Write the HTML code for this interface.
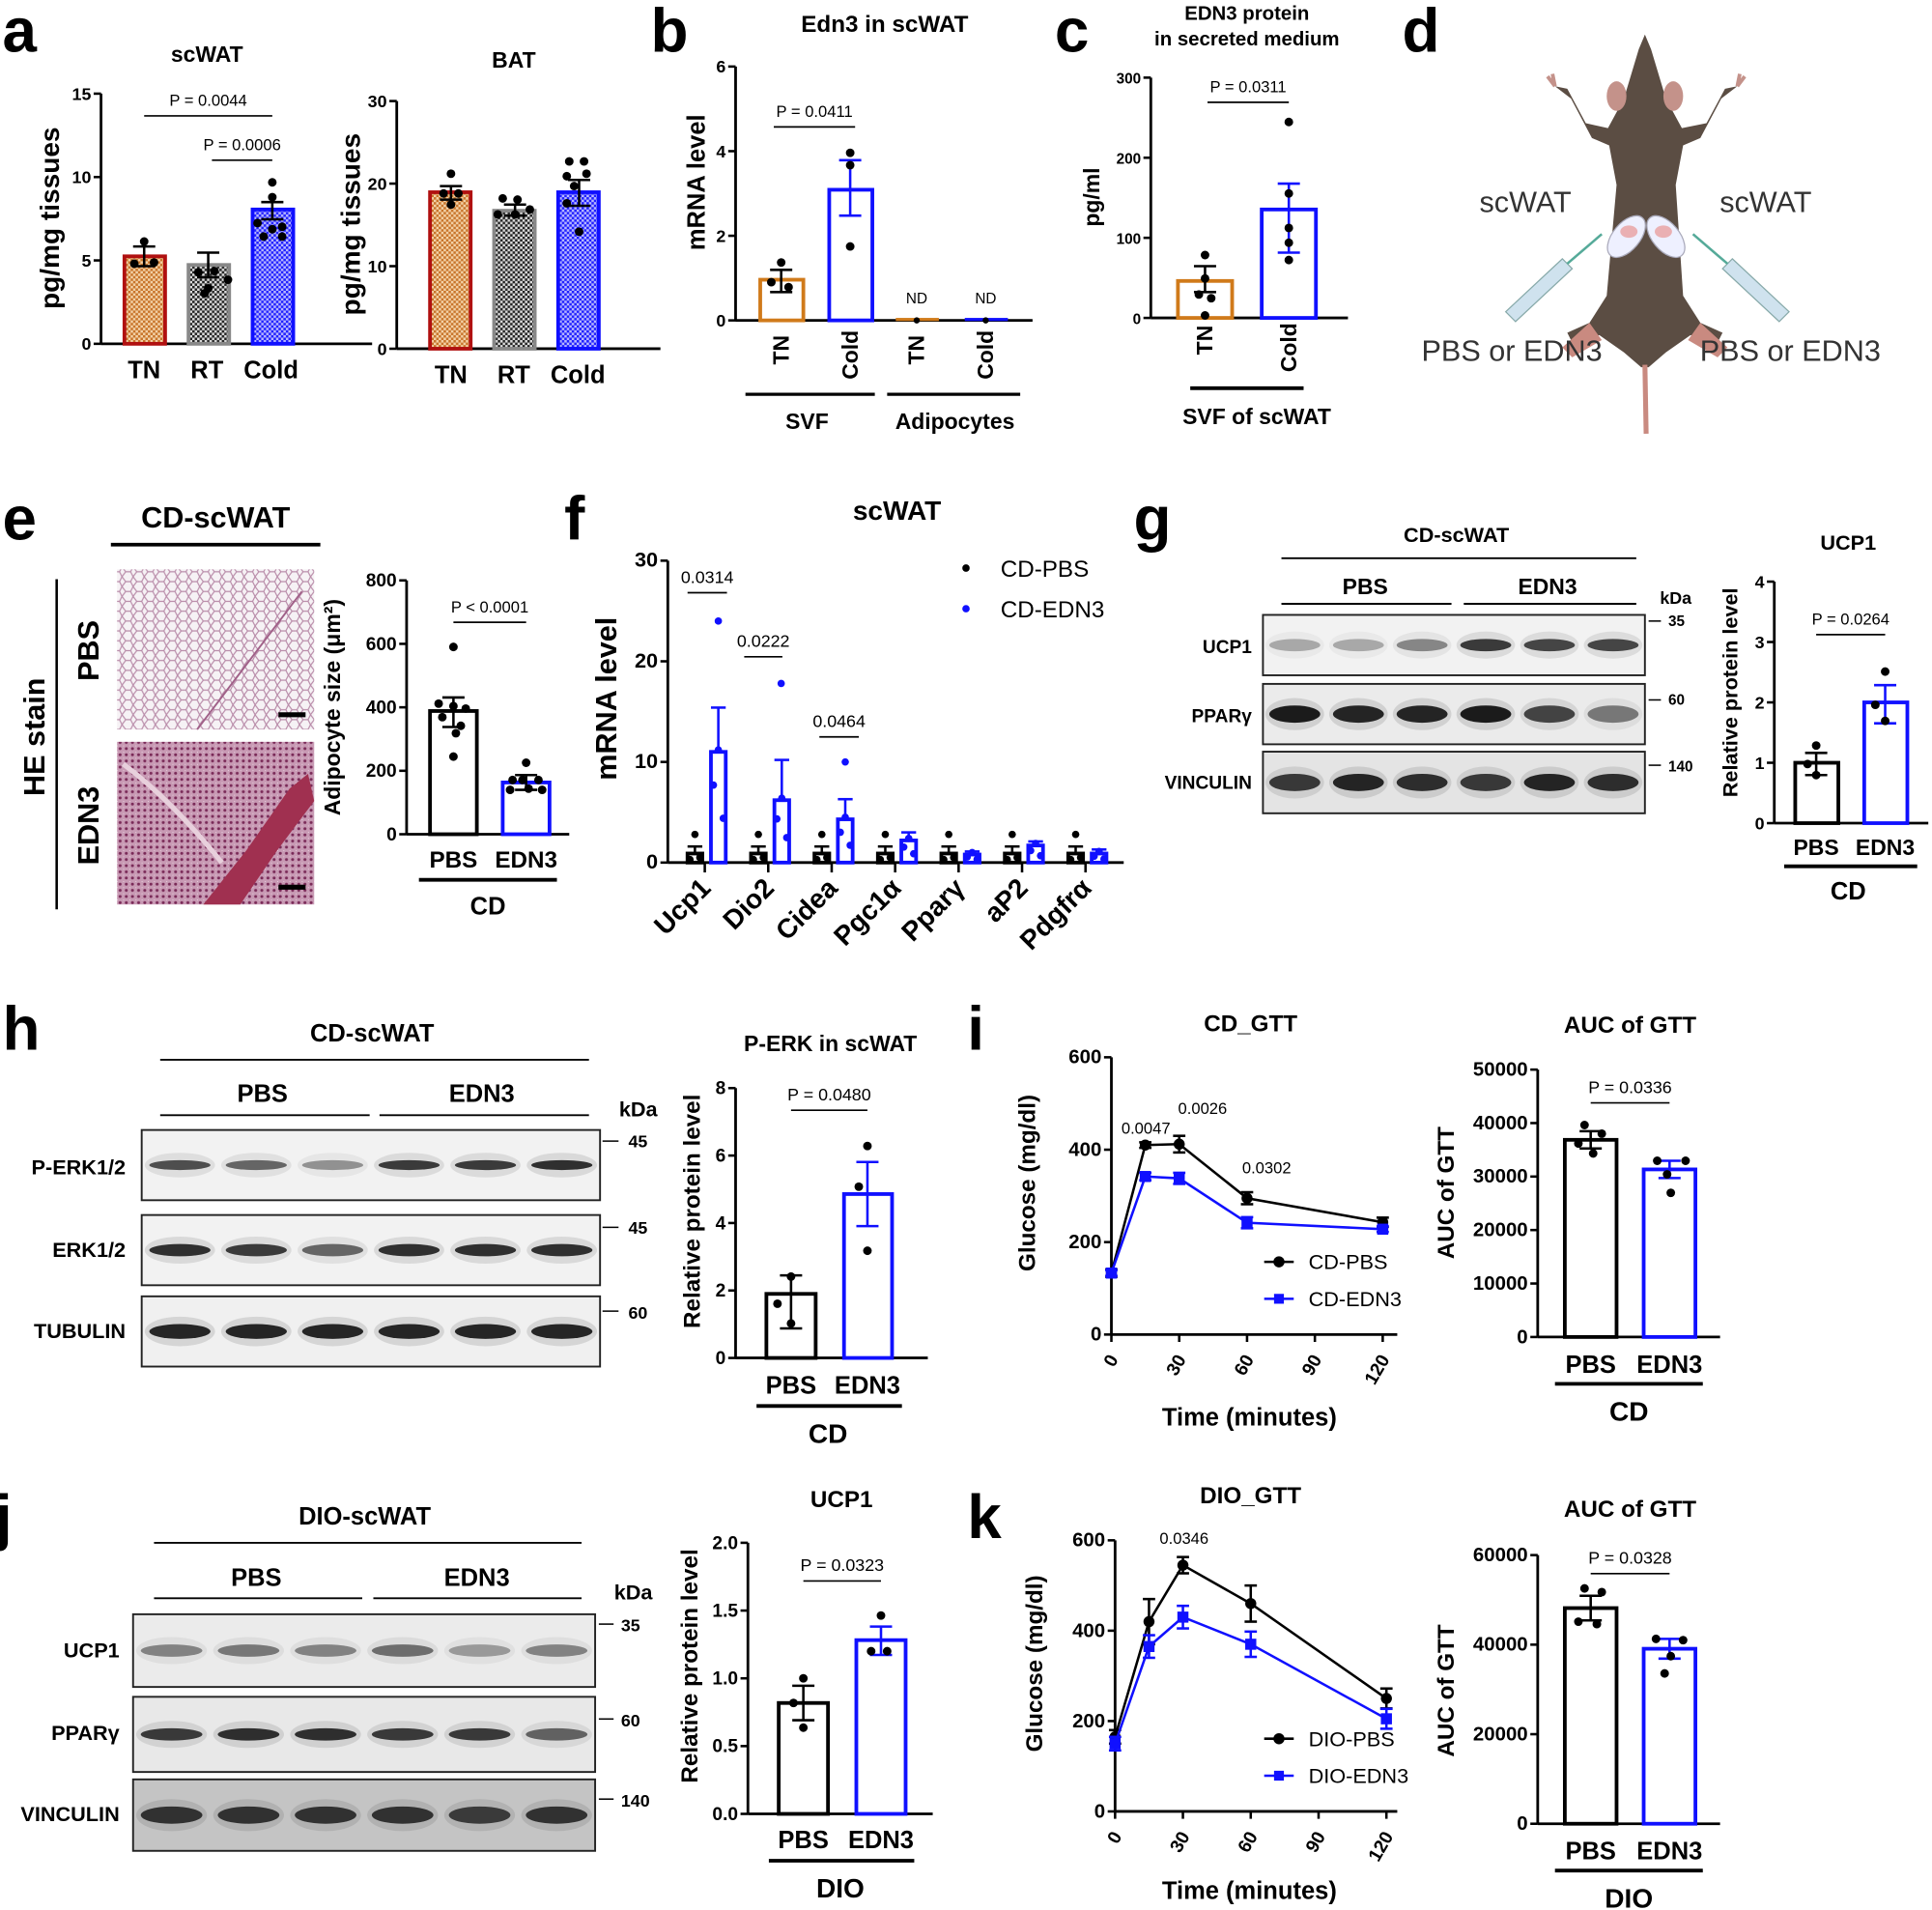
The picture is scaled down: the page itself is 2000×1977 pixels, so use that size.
<!DOCTYPE html>
<html><head><meta charset="utf-8"><style>
html,body{margin:0;padding:0;background:#fff;}
svg{display:block;}
text{font-family:"Liberation Sans",Arial,sans-serif;}
</style></head><body>
<svg id="s" xmlns="http://www.w3.org/2000/svg" width="2000" height="1977" viewBox="0 0 1568 1550" preserveAspectRatio="none">
<defs>
<pattern id="po" width="4" height="4" patternUnits="userSpaceOnUse"><rect width="4" height="4" fill="#f3d2a8"/><rect width="2" height="2" fill="#c8742a"/><rect x="2" y="2" width="2" height="2" fill="#c8742a"/></pattern>
<pattern id="pg" width="4" height="4" patternUnits="userSpaceOnUse"><rect width="4" height="4" fill="#ddd"/><rect width="2" height="2" fill="#222"/><rect x="2" y="2" width="2" height="2" fill="#222"/></pattern>
<pattern id="pb" width="4" height="4" patternUnits="userSpaceOnUse"><rect width="4" height="4" fill="#b8b8ff"/><rect width="2" height="2" fill="#2020ff"/><rect x="2" y="2" width="2" height="2" fill="#2020ff"/></pattern>
<pattern id="he1" width="9" height="8" patternUnits="userSpaceOnUse"><rect width="9" height="8" fill="#f6f2f5"/><path d="M0 4 L3 0 L7 0 L9 4 L7 8 L3 8 Z" fill="none" stroke="#b88aa8" stroke-width="0.9"/></pattern>
<pattern id="he2" width="5" height="5" patternUnits="userSpaceOnUse"><rect width="5" height="5" fill="#c89ab4"/><circle cx="2.5" cy="2.5" r="1.2" fill="#7a2a58"/><circle cx="0" cy="0" r="0.8" fill="#efe0ea"/></pattern>
</defs>
<g id="g"></g>
</svg>
<script>
var out=[];
function A(s){out.push(s);}
function T(x,y,s,sz,o){o=o||{};var a=o.a||'middle',w=o.w||'bold',f=o.f||'#000',r=o.r;
A('<text x="'+x+'" y="'+y+'" font-size="'+sz+'" font-weight="'+w+'" fill="'+f+'" text-anchor="'+a+'"'+(r!==undefined?' transform="rotate('+r+' '+x+' '+y+')"':'')+'>'+s+'</text>');}
function L(x1,y1,x2,y2,c,w){A('<line x1="'+x1+'" y1="'+y1+'" x2="'+x2+'" y2="'+y2+'" stroke="'+(c||'#000')+'" stroke-width="'+(w||1.2)+'"/>');}
function R(x,y,w,h,f,s,sw){A('<rect x="'+x+'" y="'+y+'" width="'+w+'" height="'+h+'" fill="'+f+'" stroke="'+(s||'none')+'" stroke-width="'+(sw||0)+'"/>');}
function C(x,y,r,f){A('<circle cx="'+x+'" cy="'+y+'" r="'+(r||3.5)+'" fill="'+(f||'#000')+'"/>');}
function axY(x,yt,yb,labels,sz,xEnd){L(x,yt,x,yb,'#000',2.2);var n=labels.length;for(var i=0;i<n;i++){var y=yb-(yb-yt)*i/(n-1);L(x-6,y,x,y,'#000',2);T(x-8,y+5,labels[i],sz||14,{a:'end'});}if(xEnd)L(x,yb,xEnd,yb,'#000',2.2);}
function bar(x1,x2,top,yb,stroke,fill){R(x1,top,x2-x1,yb-top,fill||'#fff',stroke,3);}
function err(xc,y1,y2,c,hw){hw=hw||9;L(xc,y1,xc,y2,c,2);L(xc-hw,y1,xc+hw,y1,c,2);L(xc-hw,y2,xc+hw,y2,c,2);}
function P(x1,x2,y,s,sz){L(x1,y,x2,y,'#000',1.3);T((x1+x2)/2,y-8,s,sz||13,{w:'normal'});}
function lab(x,y,s){T(x,y,s,50,{a:'start'});}
// ===== a
lab(2,42,'a');
T(168,50,'scWAT',18);T(417,55,'BAT',18);
axY(82,76,279,['0','5','10','15'],14,302);
T(48,177,'pg/mg tissues',22,{r:-90});
bar(101,134,266-58,279,'#b01010','url(#po)');bar(153,186,215,279,'#888','url(#pg)');bar(205,238,170,279,'#1010ff','url(#pb)');
err(117,200,216,'#000');err(169,205,225,'#000');err(221,164,178,'#000');
[[117,196],[109,214],[125,213]].forEach(p=>C(p[0],p[1]));
[[161,221],[174,220],[185,227],[169,234],[166,238]].forEach(p=>C(p[0],p[1]));
[[221,148],[221,160],[209,181],[229,184],[221,186],[214,192],[229,192]].forEach(p=>C(p[0],p[1]));
P(117,221,94,'P = 0.0044');P(172,221,130,'P = 0.0006');
T(117,307,'TN',20);T(168,307,'RT',20);T(220,307,'Cold',20);
axY(322,82,283,['0','10','20','30'],14,536);
T(292,182,'pg/mg tissues',22,{r:-90});
bar(349,382,156,283,'#b01010','url(#po)');bar(401,434,171,283,'#888','url(#pg)');bar(453,486,156,283,'#1010ff','url(#pb)');
err(366,151,162,'#000');err(418,166,175,'#000');err(470,146,167,'#000');
[[366,141],[360,157],[372,157],[366,166]].forEach(p=>C(p[0],p[1]));
[[408,161],[420,162],[430,170],[404,174],[418,174]].forEach(p=>C(p[0],p[1]));
[[462,131],[474,131],[460,143],[476,141],[466,151],[460,165],[470,188]].forEach(p=>C(p[0],p[1]));
T(366,311,'TN',20);T(417,311,'RT',20);T(469,311,'Cold',20);
// ===== b
lab(528,42,'b');
T(718,26,'Edn3 in scWAT',19);
axY(597,54,260,['0','2','4','6'],14,838);
T(572,148,'mRNA level',20,{r:-90});
bar(617,652,227,260,'#d07a1a','#fff');bar(673,708,154,260,'#1010ff','#fff');
err(634,219,237,'#000');err(690,130,175,'#1010ff');
[[634,213],[626,229],[640,233]].forEach(p=>C(p[0],p[1]));
[[690,124],[690,134],[690,200]].forEach(p=>C(p[0],p[1]));
R(727,258,35,2.5,'#d07a1a');R(783,258,35,2.5,'#1010ff');C(744,260,2.5);C(800,260,2.5);
T(744,246,'ND',12,{w:'normal'});T(800,246,'ND',12,{w:'normal'});
P(628,694,103,'P = 0.0411');
T(640,272,'TN',18,{r:-90,a:'end'});T(696,268,'Cold',18,{r:-90,a:'end'});T(750,272,'TN',18,{r:-90,a:'end'});T(806,268,'Cold',18,{r:-90,a:'end'});
L(605,320,710,320,'#000',2.5);L(720,320,828,320,'#000',2.5);
T(655,348,'SVF',18);T(775,348,'Adipocytes',18);
// ===== c
lab(856,42,'c');
T(1012,16,'EDN3 protein',16);T(1012,37,'in secreted medium',16);
axY(934,63,258,['0','100','200','300'],12,1094);
T(892,160,'pg/ml',18,{r:-90});
bar(956,1000,228,258,'#d07a1a','#fff');bar(1024,1068,170,258,'#1010ff','#fff');
err(978,216,237,'#000');err(1046,149,205,'#1010ff');
[[978,207],[978,226],[973,239],[983,242],[978,256]].forEach(p=>C(p[0],p[1]));
[[1046,99],[1046,157],[1046,185],[1046,197],[1046,211]].forEach(p=>C(p[0],p[1]));
P(980,1046,83,'P = 0.0311');
T(984,264,'TN',18,{r:-90,a:'end'});T(1052,262,'Cold',18,{r:-90,a:'end'});
L(966,315,1058,315,'#000',3);
T(1020,344,'SVF of scWAT',18);
// ===== d  mouse
lab(1138,42,'d');
A('<path d="M1262 70 L1275 80 L1292 112 L1306 118 L1312 150 L1304 240 L1290 262 L1272 270 L1276 278 L1298 272 L1318 286 L1332 298 L1338 298 L1352 286 L1372 272 L1394 278 L1398 270 L1380 262 L1366 240 L1360 150 L1366 118 L1380 112 L1397 80 L1410 70 L1400 72 L1385 100 L1365 104 L1352 80 L1340 40 L1335 28 L1330 40 L1318 80 L1305 104 L1287 100 L1272 72 Z" fill="#5b4d43"/>');
A('<ellipse cx="1312" cy="78" rx="8" ry="12" fill="#c4928a"/><ellipse cx="1358" cy="78" rx="8" ry="12" fill="#c4928a"/>');
A('<path d="M1262 70 l-6 -8 M1262 70 l-2 -10 M1410 70 l6 -8 M1410 70 l2 -10" stroke="#c4928a" stroke-width="3"/>');
A('<path d="M1290 262 L1268 282 L1276 290 L1300 276 Z M1380 262 L1402 282 L1394 290 L1370 276 Z" fill="#c98a80"/>');
L(1335,296,1336,352,'#c98a80',4);
A('<ellipse cx="1320" cy="192" rx="20" ry="11" fill="#eef0ff" stroke="#aab" transform="rotate(-50 1320 192)"/><ellipse cx="1352" cy="192" rx="20" ry="11" fill="#eef0ff" stroke="#aab" transform="rotate(50 1352 192)"/>');
A('<ellipse cx="1322" cy="188" rx="7" ry="5" fill="#e8a0a0" opacity="0.8"/><ellipse cx="1350" cy="188" rx="7" ry="5" fill="#e8a0a0" opacity="0.8"/>');
A('<path d="M1222 253 L1268 210 L1276 218 L1230 261 Z M1452 253 L1406 210 L1398 218 L1444 261 Z" fill="#cfe2ee" stroke="#8aa" stroke-width="1"/>');
L(1272,214,1300,190,'#5a9',2);L(1402,214,1374,190,'#5a9',2);
T(1238,172,'scWAT',24,{w:'normal',f:'#333'});T(1433,172,'scWAT',24,{w:'normal',f:'#333'});
T(1227,293,'PBS or EDN3',24,{w:'normal',f:'#333'});T(1453,293,'PBS or EDN3',24,{w:'normal',f:'#333'});
// ===== e
lab(2,438,'e');
T(175,428,'CD-scWAT',24);L(90,442,260,442,'#000',3);
T(36,598,'HE stain',24,{r:-90});L(46,470,46,738,'#000',2);
T(80,528,'PBS',24,{r:-90});T(80,670,'EDN3',24,{r:-90});
R(95,462,160,130,'url(#he1)');R(95,602,160,132,'url(#he2)');
A('<path d="M160 592 L245 480" stroke="#a06088" stroke-width="1.5" fill="none"/><path d="M165 734 L200 690 L235 640 L250 628 L255 650 L225 690 L195 734 Z" fill="#a03050"/><path d="M100 620 Q140 650 180 700" stroke="#e8d0dc" stroke-width="4" fill="none"/>');
L(226,580,248,580,'#000',4);L(226,720,248,720,'#000',4);
axY(330,471,677,['0','200','400','600','800'],15,462);
T(276,574,'Adipocyte size (μm²)',18,{r:-90});
bar(349,387,577,677,'#000','#fff');bar(408,446,635,677,'#1010ff','#fff');
err(368,566,590,'#000');err(427,629,641,'#000');
[[368,525],[356,571],[368,573],[378,575],[359,582],[374,589],[368,614],[370,595]].forEach(p=>C(p[0],p[1]));
[[427,619],[416,633],[424,633],[437,633],[414,641],[429,640],[440,641]].forEach(p=>C(p[0],p[1]));
P(368,427,505,'P &lt; 0.0001');
T(368,704,'PBS',19);T(427,704,'EDN3',19);L(340,714,452,714,'#000',3);T(396,742,'CD',20);
// ===== f
lab(458,438,'f');
T(728,422,'scWAT',22);
axY(542,455,700,['0','10','20','30'],17,912);
T(500,567,'mRNA level',24,{r:-90});
var fy=v=>700-v*245/30;
var fe=[11,6.2,4.3,2.2,0.8,1.7,0.9];var fee=[4.4,4,2,0.8,0.3,0.4,0.4];
var names=['Ucp1','Dio2','Cidea','Pgc1α','Pparγ','aP2','Pdgfrα'];
for(var i=0;i<7;i++){var cx=572+i*51.5;L(cx,700,cx,708,'#000',2);
 var bx=cx-8,ex=cx+11;
 bar(bx-6,bx+6,fy(0.9),700,'#000','#fff');err(bx,fy(0.9),fy(1.6),'#000',6);C(bx,fy(2.8),3);C(bx-4,fy(0.3),3);C(bx+4,fy(0.5),3);
 bar(ex-6,ex+6,fy(fe[i]),700,'#1010ff','#fff');err(ex,fy(fe[i]),fy(fe[i]+fee[i]),'#1010ff',6);
 C(ex,fy(fe[i]+0.2),3,'#1010ff');C(ex-4,fy(fe[i]*0.7),3,'#1010ff');C(ex+4,fy(fe[i]*0.4),3,'#1010ff');
 T(cx+6,722,names[i],22,{a:'end',r:-45});}
C(583,fy(24),3,'#1010ff');C(634,fy(17.8),3,'#1010ff');C(686,fy(10),3,'#1010ff');
P(558,590,481,'0.0314',14);P(604,635,533,'0.0222',14);P(665,697,598,'0.0464',14);
C(784,461,3);C(784,494,3,'#1010ff');T(812,468,'CD-PBS',19,{a:'start',w:'normal'});T(812,501,'CD-EDN3',19,{a:'start',w:'normal'});
// ===== blots
function blot(x,y,w,h,n,col,th,int){R(x,y,w,h,col||'#e8e8e8','#222',1.5);var lw=w/n;for(var i=0;i<n;i++){var cx=x+lw*(i+0.5);var t=int?int[i]:0.7;
 A('<ellipse cx="'+cx+'" cy="'+(y+h/2)+'" rx="'+(lw*0.4)+'" ry="'+(th||5)+'" fill="rgba(20,20,20,'+t+')" />');
 A('<ellipse cx="'+cx+'" cy="'+(y+h/2)+'" rx="'+(lw*0.46)+'" ry="'+((th||5)+6)+'" fill="rgba(0,0,0,'+(t*0.12)+')" />');}}
// g
lab(920,438,'g');
T(1182,440,'CD-scWAT',17);L(1040,453,1328,453,'#000',1.5);
T(1108,482,'PBS',18);T(1256,482,'EDN3',18);L(1040,490,1178,490,'#000',1.5);L(1188,490,1328,490,'#000',1.5);
T(1360,490,'kDa',14);
blot(1025,499,310,49,6,'#f2f2f2',5,[0.3,0.3,0.45,0.8,0.75,0.75]);blot(1025,555,310,49,6,'#ebebeb',7,[0.95,0.9,0.9,0.95,0.75,0.5]);blot(1025,610,310,50,6,'#e4e4e4',7,[0.8,0.9,0.85,0.8,0.9,0.85]);
T(1016,530,'UCP1',15,{a:'end'});T(1016,586,'PPARγ',15,{a:'end'});T(1016,640,'VINCULIN',15,{a:'end'});
L(1338,504,1348,504,'#000',1.2);T(1354,508,'35',12,{a:'start'});L(1338,568,1348,568,'#000',1.2);T(1354,572,'60',12,{a:'start'});L(1338,621,1348,621,'#000',1.2);T(1354,626,'140',12,{a:'start'});
T(1500,446,'UCP1',17);
axY(1440,472,668,['0','1','2','3','4'],14,1565);
T(1410,562,'Relative protein level',17,{r:-90});
bar(1457,1492,619,668,'#000','#fff');bar(1513,1548,570,668,'#1010ff','#fff');
err(1474,611,629,'#000');err(1530,556,587,'#1010ff');
[[1474,605],[1467,620],[1474,629]].forEach(p=>C(p[0],p[1]));[[1530,545],[1522,572],[1530,585]].forEach(p=>C(p[0],p[1]));
P(1474,1530,515,'P = 0.0264');
T(1474,694,'PBS',18);T(1530,694,'EDN3',18);L(1448,703,1556,703,'#000',3);T(1500,730,'CD',20);
// ===== h
lab(2,852,'h');
T(302,845,'CD-scWAT',20);L(130,860,478,860,'#000',1.5);
T(213,894,'PBS',20);T(391,894,'EDN3',20);L(130,905,300,905,'#000',1.5);L(308,905,478,905,'#000',1.5);
T(518,906,'kDa',17);
blot(115,917,372,57,6,'#f2f2f2',4,[0.7,0.6,0.4,0.8,0.8,0.85]);
blot(115,986,372,57,6,'#f2f2f2',5,[0.85,0.8,0.6,0.85,0.85,0.85]);blot(115,1052,372,57,6,'#f0f0f0',6,[0.9,0.9,0.9,0.9,0.9,0.9]);
T(102,953,'P-ERK1/2',17,{a:'end'});T(102,1020,'ERK1/2',17,{a:'end'});T(102,1086,'TUBULIN',17,{a:'end'});
L(489,926,502,926,'#000',1.2);T(510,931,'45',14,{a:'start'});L(489,996,502,996,'#000',1.2);T(510,1001,'45',14,{a:'start'});L(489,1064,502,1064,'#000',1.2);T(510,1070,'60',14,{a:'start'});
T(674,853,'P-ERK in scWAT',18);
axY(597,883,1102,['0','2','4','6','8'],15,753);
T(568,983,'Relative protein level',19,{r:-90});
bar(622,662,1050,1102,'#000','#fff');bar(685,724,969,1102,'#1010ff','#fff');
err(642,1035,1078,'#000');err(704,943,995,'#1010ff');
[[642,1036],[631,1058],[642,1074]].forEach(p=>C(p[0],p[1]));[[704,930],[697,963],[704,1015]].forEach(p=>C(p[0],p[1]));
P(642,704,901,'P = 0.0480',14);
T(642,1131,'PBS',20);T(704,1131,'EDN3',20);L(614,1141,732,1141,'#000',3);T(672,1171,'CD',22);
// ===== i & k line charts
function gtt(ax,yt,yb,ymax,xs,d1,d2,e1,e2,labs,pl){axY(ax,yt,yb,['0','200','400','600'],16,1134);
 var X=t=>ax+t*1.835,Y=v=>yb-v*(yb-yt)/ymax;var ts=[0,15,30,60,120];
 [0,30,60,90,120].forEach(t=>{L(X(t),yb,X(t),yb+6,'#000',2);T(X(t)+6,yb+20,String(t),15,{r:-60,a:'end'});});
 [[d1,e1,'#000','c'],[d2,e2,'#1010ff','s']].forEach(s=>{var p=s[0].map((v,i)=>X(ts[i])+','+Y(v)).join(' ');A('<polyline points="'+p+'" fill="none" stroke="'+s[2]+'" stroke-width="2"/>');
  s[0].forEach((v,i)=>{err(X(ts[i]),Y(v-s[1][i]),Y(v+s[1][i]),s[2],5);if(s[3]=='c')C(X(ts[i]),Y(v),4.5,s[2]);else R(X(ts[i])-4.5,Y(v)-4.5,9,9,s[2]);});});
 L(1026,yb-59,1050,yb-59,'#000',2);C(1038,yb-59,4.5);L(1026,yb-29,1050,yb-29,'#1010ff',2);R(1034,yb-33,8,8,'#1010ff');
 T(1062,yb-53,labs[0],17,{a:'start',w:'normal'});T(1062,yb-23,labs[1],17,{a:'start',w:'normal'});
 pl.forEach(q=>T(q[0],q[1],q[2],13,{w:'normal'}));}
lab(785,852,'i');
T(1015,837,'CD_GTT',19);
gtt(902,858,1083,600,0,[133,410,412,295,243],[133,342,338,242,228],[8,6,18,13,10],[6,8,12,12,6],['CD-PBS','CD-EDN3'],[[930,920,'0.0047'],[976,904,'0.0026'],[1028,952,'0.0302']]);
T(840,960,'Glucose (mg/dl)',19,{r:-90});T(1014,1157,'Time (minutes)',20);
lab(785,1248,'k');
T(1015,1220,'DIO_GTT',19);
gtt(905,1250,1470,600,0,[165,420,545,460,250],[150,365,430,370,205],[15,50,18,40,22],[15,25,25,28,22],['DIO-PBS','DIO-EDN3'],[[961,1253,'0.0346']]);
T(846,1350,'Glucose (mg/dl)',19,{r:-90});T(1014,1541,'Time (minutes)',20);
// AUC
function auc(yt,yb,labs,h1,h2,e1,e2,pd,pv,dd1,dd2,grp){axY(1248,yt,yb,labs,16,1396);
 bar(1270,1312,h1,yb,'#000','#fff');bar(1334,1376,h2,yb,'#1010ff','#fff');err(1291,h1-e1,h1+e1,'#000');err(1355,h2-e2,h2+e2,'#1010ff');
 dd1.forEach(p=>C(p[0],p[1]));dd2.forEach(p=>C(p[0],p[1]));P(1291,1355,pd,pv,14);
 T(1291,yb+29,'PBS',20);T(1355,yb+29,'EDN3',20);L(1262,yb+38,1382,yb+38,'#000',3);T(1322,yb+68,grp,22);}
T(1323,838,'AUC of GTT',19);
auc(868,1085,['0','10000','20000','30000','40000','50000'],925,949,7,7,895,'P = 0.0336',[[1286,913],[1300,920],[1281,928],[1293,936]],[[1345,942],[1368,942],[1353,953],[1356,968]],'CD');
T(1180,968,'AUC of GTT',19,{r:-90});
T(1323,1231,'AUC of GTT',19);
auc(1262,1480,['0','20000','40000','60000'],1305,1338,10,8,1277,'P = 0.0328',[[1286,1289],[1300,1292],[1281,1316],[1296,1318]],[[1344,1330],[1366,1331],[1351,1358],[1356,1344]],'DIO');
T(1180,1372,'AUC of GTT',19,{r:-90});
// ===== j
lab(-4,1248,'j');
T(296,1237,'DIO-scWAT',20);L(125,1252,472,1252,'#000',1.5);
T(208,1287,'PBS',20);T(387,1287,'EDN3',20);L(125,1297,294,1297,'#000',1.5);L(303,1297,472,1297,'#000',1.5);
T(514,1298,'kDa',17);
blot(108,1310,375,59,6,'#ebebeb',5,[0.45,0.5,0.45,0.55,0.35,0.45]);blot(108,1377,375,61,6,'#e8e8e8',5,[0.8,0.85,0.85,0.8,0.8,0.6]);blot(108,1444,375,58,6,'#c4c4c4',7,[0.8,0.8,0.8,0.8,0.75,0.8]);
T(97,1345,'UCP1',17,{a:'end'});T(97,1412,'PPARγ',17,{a:'end'});T(97,1478,'VINCULIN',17,{a:'end'});
L(486,1318,498,1318,'#000',1.2);T(504,1324,'35',14,{a:'start'});L(486,1395,498,1395,'#000',1.2);T(504,1401,'60',14,{a:'start'});L(486,1460,498,1460,'#000',1.2);T(504,1466,'140',14,{a:'start'});
T(683,1223,'UCP1',19);
axY(607,1252,1472,['0.0','0.5','1.0','1.5','2.0'],15,757);
T(566,1352,'Relative protein level',19,{r:-90});
bar(632,672,1382,1472,'#000','#fff');bar(695,735,1331,1472,'#1010ff','#fff');
err(652,1368,1396,'#000');err(715,1320,1343,'#1010ff');
[[652,1362],[644,1382],[652,1402]].forEach(p=>C(p[0],p[1]));[[715,1311],[707,1340],[720,1340]].forEach(p=>C(p[0],p[1]));
P(652,715,1283,'P = 0.0323',14);
T(652,1500,'PBS',20);T(715,1500,'EDN3',20);L(624,1510,742,1510,'#000',3);T(682,1540,'DIO',22);
document.getElementById('g').innerHTML=out.join('');
</script>
</body></html>
